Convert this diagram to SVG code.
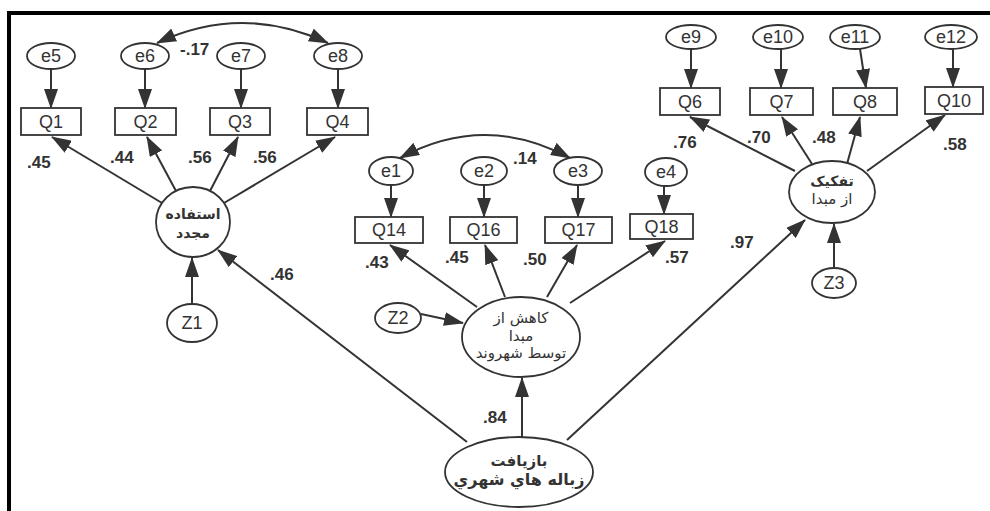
<svg xmlns="http://www.w3.org/2000/svg" width="990" height="511" viewBox="0 0 990 511">
<defs>
<marker id="ah" markerWidth="20" markerHeight="14" refX="19" refY="7" orient="auto-start-reverse" markerUnits="userSpaceOnUse"><path d="M0,0 L20,7 L0,14 Z" fill="#333"/></marker>
<style>
.ln{stroke:#333;stroke-width:2;fill:none;marker-end:url(#ah)}
.cv{stroke:#333;stroke-width:2;fill:none;marker-start:url(#ah);marker-end:url(#ah)}
.nd{fill:#fff;stroke:#333;stroke-width:1.8}
.t{font-family:"Liberation Sans",Arial,sans-serif;font-size:18px;fill:#333;text-anchor:middle}
.lb{font-family:"Liberation Sans",Arial,sans-serif;font-size:17px;font-weight:bold;fill:#333;direction:ltr;unicode-bidi:embed}
.ar{font-family:"DejaVu Sans",sans-serif;font-size:15px;fill:#333;text-anchor:middle}
.arb{font-family:"DejaVu Sans",sans-serif;font-size:14px;font-weight:bold;fill:#333;text-anchor:middle}
</style>
</defs>
<rect width="990" height="511" fill="#fff"/>
<path d="M9,511 V13 H990" fill="none" stroke="#000" stroke-width="4"/>

<g id="connectors">
<line class="ln" x1="51" y1="69" x2="51" y2="108"/>
<line class="ln" x1="145" y1="69" x2="145" y2="108"/>
<line class="ln" x1="241" y1="69" x2="241" y2="108"/>
<line class="ln" x1="338" y1="69" x2="338" y2="108"/>
<path class="cv" d="M157,43 Q242,3 328,43"/>
<line class="ln" x1="162" y1="203" x2="52" y2="137"/>
<line class="ln" x1="176" y1="191" x2="147" y2="137"/>
<line class="ln" x1="210" y1="191" x2="238" y2="137"/>
<line class="ln" x1="224" y1="203" x2="335" y2="137"/>
<line class="ln" x1="192" y1="304" x2="192" y2="258"/>
<line class="ln" x1="467" y1="442" x2="218" y2="250"/>

<line class="ln" x1="391" y1="185" x2="391" y2="217"/>
<line class="ln" x1="484" y1="185" x2="484" y2="217"/>
<line class="ln" x1="578" y1="185" x2="578" y2="217"/>
<line class="ln" x1="664" y1="186" x2="664" y2="214"/>
<path class="cv" d="M400,158 Q485,112 570,158"/>
<line class="ln" x1="477" y1="307" x2="390" y2="245"/>
<line class="ln" x1="505" y1="297" x2="485" y2="245"/>
<line class="ln" x1="547" y1="297" x2="577" y2="245"/>
<line class="ln" x1="570" y1="303" x2="665" y2="241"/>
<line class="ln" x1="421" y1="314" x2="463" y2="323"/>
<line class="ln" x1="522" y1="437" x2="522" y2="378"/>

<line class="ln" x1="691" y1="49" x2="691" y2="88"/>
<line class="ln" x1="781" y1="49" x2="781" y2="88"/>
<line class="ln" x1="860" y1="49" x2="866" y2="88"/>
<line class="ln" x1="953" y1="49" x2="953" y2="87"/>
<line class="ln" x1="795" y1="171" x2="690" y2="117"/>
<line class="ln" x1="812" y1="164" x2="782" y2="117"/>
<line class="ln" x1="847" y1="164" x2="860" y2="117"/>
<line class="ln" x1="867" y1="171" x2="945" y2="115"/>
<line class="ln" x1="834" y1="268" x2="834" y2="224"/>
<line class="ln" x1="567" y1="440" x2="805" y2="220"/>
</g>

<g id="labels">
<text class="lb" x="27" y="168">.45</text>
<text class="lb" x="110" y="163">.44</text>
<text class="lb" x="188" y="163">.56</text>
<text class="lb" x="253" y="163">.56</text>
<text class="lb" x="180" y="55">-.17</text>
<text class="lb" x="270" y="280">.46</text>
<text class="lb" x="513" y="164">.14</text>
<text class="lb" x="365" y="268">.43</text>
<text class="lb" x="445" y="263">.45</text>
<text class="lb" x="523" y="265">.50</text>
<text class="lb" x="665" y="263">.57</text>
<text class="lb" x="483" y="423">.84</text>
<text class="lb" x="730" y="248">.97</text>
<text class="lb" x="673" y="148">.76</text>
<text class="lb" x="747" y="143">.70</text>
<text class="lb" x="812" y="143">.48</text>
<text class="lb" x="943" y="150">.58</text>
</g>

<g id="e5"><ellipse class="nd" cx="51" cy="56" rx="24" ry="13"/><text class="t" x="51" y="62">e5</text></g>
<g id="e6"><ellipse class="nd" cx="145" cy="56" rx="24" ry="13"/><text class="t" x="145" y="62">e6</text></g>
<g id="e7"><ellipse class="nd" cx="241" cy="56" rx="24" ry="13"/><text class="t" x="241" y="62">e7</text></g>
<g id="e8"><ellipse class="nd" cx="338" cy="56" rx="24" ry="13"/><text class="t" x="338" y="62">e8</text></g>
<g id="Q1"><rect class="nd" x="21" y="108" width="60" height="27"/><text class="t" x="51" y="128">Q1</text></g>
<g id="Q2"><rect class="nd" x="115" y="108" width="61" height="27"/><text class="t" x="145.5" y="128">Q2</text></g>
<g id="Q3"><rect class="nd" x="210" y="108" width="60" height="27"/><text class="t" x="240" y="128">Q3</text></g>
<g id="Q4"><rect class="nd" x="307" y="108" width="61" height="27"/><text class="t" x="337.5" y="128">Q4</text></g>
<g id="reuse"><ellipse class="nd" cx="193" cy="222" rx="37" ry="35"/><text class="arb" x="193" y="219">استفاده</text><text class="arb" x="193" y="238">مجدد</text></g>
<g id="Z1"><ellipse class="nd" cx="192" cy="323" rx="25" ry="19"/><text class="t" x="192" y="329">Z1</text></g>

<g id="e1"><ellipse class="nd" cx="391" cy="171" rx="22" ry="14"/><text class="t" x="391" y="177">e1</text></g>
<g id="e2"><ellipse class="nd" cx="484" cy="171" rx="23" ry="14"/><text class="t" x="484" y="177">e2</text></g>
<g id="e3"><ellipse class="nd" cx="578" cy="171" rx="24" ry="14"/><text class="t" x="578" y="177">e3</text></g>
<g id="e4"><ellipse class="nd" cx="666" cy="172" rx="21" ry="14"/><text class="t" x="666" y="178">e4</text></g>
<g id="Q14"><rect class="nd" x="355" y="217" width="68" height="26"/><text class="t" x="389" y="236">Q14</text></g>
<g id="Q16"><rect class="nd" x="450" y="217" width="67" height="26"/><text class="t" x="483.5" y="236">Q16</text></g>
<g id="Q17"><rect class="nd" x="545" y="217" width="67" height="26"/><text class="t" x="578.5" y="236">Q17</text></g>
<g id="Q18"><rect class="nd" x="630" y="214" width="63" height="25"/><text class="t" x="661.5" y="233">Q18</text></g>
<g id="reduce"><ellipse class="nd" cx="521" cy="337" rx="59" ry="40"/><text class="ar" x="521" y="323">کاهش از</text><text class="ar" x="521" y="341">مبدا</text><text class="ar" x="521" y="358">توسط شهروند</text></g>
<g id="Z2"><ellipse class="nd" cx="398" cy="318" rx="23" ry="15"/><text class="t" x="398" y="324">Z2</text></g>

<g id="e9"><ellipse class="nd" cx="691" cy="37" rx="25" ry="12"/><text class="t" x="691" y="43">e9</text></g>
<g id="e10"><ellipse class="nd" cx="778" cy="37" rx="25" ry="12"/><text class="t" x="778" y="43">e10</text></g>
<g id="e11"><ellipse class="nd" cx="855" cy="37" rx="25" ry="12"/><text class="t" x="855" y="43">e11</text></g>
<g id="e12"><ellipse class="nd" cx="951" cy="37" rx="26" ry="12"/><text class="t" x="951" y="43">e12</text></g>
<g id="Q6"><rect class="nd" x="660" y="88" width="60" height="27"/><text class="t" x="690" y="108">Q6</text></g>
<g id="Q7"><rect class="nd" x="750" y="88" width="63" height="27"/><text class="t" x="781.5" y="108">Q7</text></g>
<g id="Q8"><rect class="nd" x="833" y="88" width="64" height="27"/><text class="t" x="865" y="108">Q8</text></g>
<g id="Q10"><rect class="nd" x="925" y="87" width="58" height="27"/><text class="t" x="954" y="107">Q10</text></g>
<g id="separate"><ellipse class="nd" cx="832" cy="192" rx="43" ry="31"/><text class="arb" x="832" y="186">تفکیک</text><text class="ar" x="832" y="204">از مبدا</text></g>
<g id="Z3"><ellipse class="nd" cx="834" cy="283" rx="22" ry="15"/><text class="t" x="834" y="289">Z3</text></g>

<g id="recycle"><ellipse class="nd" cx="519" cy="472" rx="74" ry="35"/><text class="arb" x="519" y="466" style="font-size:15px">بازيافت</text><text class="arb" x="519" y="485" style="font-size:16px">زباله هاي شهري</text></g>
</svg>
